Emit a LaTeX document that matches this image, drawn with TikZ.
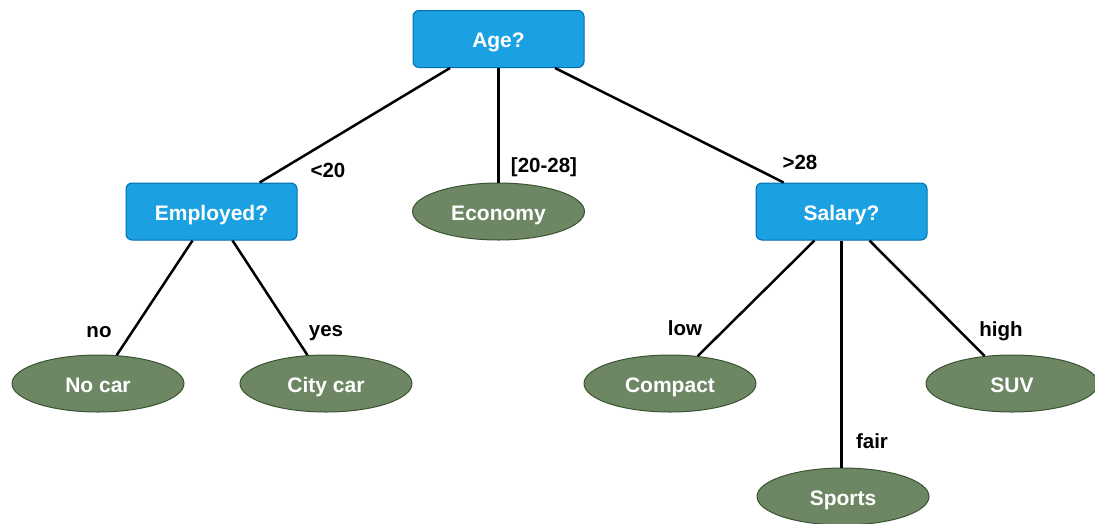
\documentclass[tikz,border=0pt]{standalone}
\usepackage{fontspec}
\setmainfont{Liberation Sans}
\usetikzlibrary{shapes.geometric}
\definecolor{testfill}{HTML}{1BA1E2}
\definecolor{testline}{HTML}{006EAF}
\definecolor{leaffill}{HTML}{6D8764}
\definecolor{leafline}{HTML}{3A5431}
\begin{document}
\begin{tikzpicture}[x=1pt,y=-1pt,line width=2.5pt,
		test/.style={rectangle,rounded corners=6pt,draw=testline,fill=testfill,line width=1pt,minimum width=171pt,minimum height=57pt,inner sep=0pt,text=white,font=\fontsize{21}{25}\selectfont\bfseries,text height=17pt,text depth=0pt},
		leaf/.style={ellipse,draw=leafline,fill=leaffill,line width=1pt,minimum width=172pt,minimum height=57pt,inner sep=0pt,text=white,font=\fontsize{21}{25}\selectfont\bfseries,text height=17pt,text depth=0pt},
		lbl/.style={anchor=base,inner sep=0pt,font=\fontsize{20.5}{24}\selectfont\bfseries}]
	\useasboundingbox (0,0) rectangle (1095,523);
	% questions
	\node[test] (age) at (498.5,39) {Age?};
	\node[test] (emp) at (211.5,211.5) {Employed?};
	\node[test] (sal) at (841.5,211.5) {Salary?};
	% answers
	\node[leaf] (eco) at (498.5,211.5) {Economy};
	\node[leaf] (nocar) at (98,383.5) {No car};
	\node[leaf] (city) at (326,383.5) {City car};
	\node[leaf] (comp) at (670,383.5) {Compact};
	\node[leaf] (suv) at (1012,383.5) {SUV};
	\node[leaf] (sport) at (843,496.5) {Sports};
	% branches
	\draw ([xshift=-48.5pt]age.south) -- (emp);
	\draw (age.south) -- (eco.north);
	\draw ([xshift=56.5pt]age.south) -- (sal);
	\draw ([xshift=-19pt]emp.south) -- (nocar);
	\draw ([xshift=21pt]emp.south) -- (city);
	\draw ([xshift=-27pt]sal.south) -- (comp);
	\draw (sal.south) -- (sal.south |- sport.north);
	\draw ([xshift=28pt]sal.south) -- (suv);
	% branch labels
	\node[lbl] (lless) at (328,177) {<20};
	\node[lbl] (lmid) at (544,172) {[20-28]};
	\node[lbl] (lmore) at (800,169) {>28};
	\node[lbl] (lno) at (99,337) {no};
	\node[lbl] (lyes) at (326,336) {yes};
	\node[lbl] (llow) at (685,335) {low};
	\node[lbl] (lhigh) at (1001,336) {high};
	\node[lbl] (lfair) at (872,448) {fair};
\end{tikzpicture}
\end{document}
